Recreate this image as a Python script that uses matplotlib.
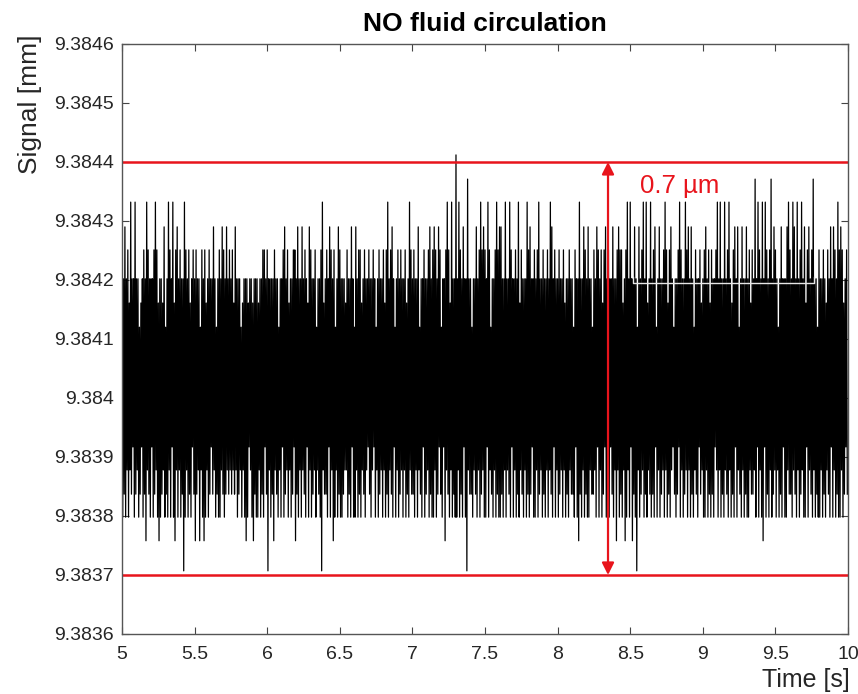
import numpy as np
import matplotlib
matplotlib.use("Agg")
import matplotlib.pyplot as plt

# quantised signal levels [mm]
up_levels = [9.38412, 9.384161, 9.384202, 9.384251, 9.38429, 9.384332, 9.384371, 9.384412]
low_levels = [9.383958, 9.383917, 9.383878, 9.383837, 9.383798, 9.383758, 9.383707]

# per 0.01 s bin: highest / lowest level code reached (estimated, 50 bins per row)
up_rows = [
    "32123132232201232132223231221302232313223220323123",
    "23220323123223202321322232313222012221221222122332",
    "32222322022312312233202232321232230223212322323022",
    "32221322320223312322322320232231322322023232231223",
    "23223022322312323223022323132232232122322022323132",
    "32230223231322322032232313222230223231223223202232",
    "23223122322032232213232203223231322322022323312322",
    "32232022322312323202322323132202232322133222032231",
    "23223132233202232322132230232232313222032322323122",
    "32023222313223202322313223222032232132320322323123",
]
low_rows = [
    "43424231432431434234143242432434241432424324243413",
    "43242434243132434423432323232432424341242344243413",
    "42434234241432424314342423414243242344233414234243",
    "44322434144243423421342142432424342341424324243423",
    "34242341432434424313414234243442434144233423424324",
    "41423424344342423414243423424343144243243424234142",
    "43242434233414234243442332414243142413424243423424",
    "14344243243423434142432424342134314243242434234132",
    "44243434124243423424341423424344233241424314342432",
    "42434144233423424324414234243442434234142434424313",
]

# isolated spikes (bin index, 0.01 s per bin)
up_code4 = [2, 29, 38, 63, 69, 72, 78, 112, 121, 124, 129, 143, 149, 158, 161,
            186, 204, 212, 215, 218, 235, 244, 249, 260, 261, 281, 296, 318, 321,
            327, 333, 338, 342, 353, 356, 367, 370, 378, 390, 392, 402, 422, 424,
            427, 430, 449, 454, 458, 463, 470, 473, 488, 490, 495]
up_code5 = [0, 6, 9, 17, 23, 32, 35, 43, 138, 183, 198, 224, 227, 232, 247, 252,
            258, 264, 267, 273, 279, 287, 295, 315, 348, 350, 359, 361, 364, 374,
            384, 388, 410, 412, 415, 418, 438, 441, 443, 459, 462, 465, 468, 493]
up_code6 = [238, 436, 447, 476]
up_code7 = [230]
low_code5 = [16, 25, 36, 50, 53, 56, 85, 90, 104, 119, 145, 222, 314, 340, 346, 351, 441]
low_code6 = [42, 100, 137, 237, 354]

# leftover light bracket inside the plot (erased legend)
bracket_t = [8.52, 8.52, 9.766, 9.766]
bracket_y = [9.384205, 9.384195, 9.384195, 9.384205]

limit_hi = 9.3844
limit_lo = 9.3837
arrow_t = 8.347

up_code = np.array([int(c) for c in "".join(up_rows)])
low_code = np.array([int(c) for c in "".join(low_rows)])
for codes, val in [(up_code4, 4), (up_code5, 5), (up_code6, 6), (up_code7, 7)]:
    up_code[codes] = val
for codes, val in [(low_code5, 5), (low_code6, 6)]:
    low_code[codes] = val

t_bin = 5 + 0.01 * np.arange(len(up_code))
t = np.column_stack([t_bin, t_bin + 0.005]).ravel()
sig = np.column_stack([np.array(up_levels)[up_code],
                       np.array(low_levels)[low_code]]).ravel()

red = "#e8141c"
plt.rcParams["font.family"] = ["Liberation Sans", "DejaVu Sans"]

fig = plt.figure(figsize=(8.58, 6.94), dpi=100)
ax = fig.add_axes([0.1422, 0.0865, 0.8462, 0.8501])

ax.plot(t, sig, color="black", lw=0.9)
ax.plot(bracket_t, bracket_y, color="#e6e6e6", lw=1.0)
ax.axhline(limit_hi, color=red, lw=1.8)
ax.axhline(limit_lo, color=red, lw=1.8)
ax.annotate("", xy=(arrow_t, limit_hi), xytext=(arrow_t, limit_lo),
            arrowprops=dict(arrowstyle="<|-|>", color=red, lw=1.6,
                            mutation_scale=18, shrinkA=0, shrinkB=0))
ax.text(8.57, 9.38436, "0.7 \u00b5m", color=red, fontsize=18.5, ha="left", va="center")

ax.set_xlim(5, 10)
ax.set_ylim(9.3836, 9.3846)
xt = np.arange(5, 10.01, 0.5)
yt = np.arange(9.3836, 9.38461, 0.0001)
ax.set_xticks(xt)
ax.set_xticklabels([f"{v:g}" for v in xt])
ax.set_yticks(yt)
ax.set_yticklabels([f"{v:.4f}".rstrip("0") for v in yt])
ax.tick_params(direction="in", top=True, right=True, length=5, width=0.8,
               labelsize=14, colors="#444444", labelcolor="#262626")
ax.tick_params(axis="y", pad=6)
ax.tick_params(axis="x", pad=9)
for s in ax.spines.values():
    s.set_color("#555555")
    s.set_linewidth(1.0)

ax.set_title("NO fluid circulation", fontsize=19, fontweight="bold", pad=9)
ax.set_ylabel("Signal [mm]", fontsize=19, color="#262626")
ax.yaxis.set_label_coords(-0.127, 0.898)
ax.yaxis.label.set_va("center")
ax.set_xlabel("Time [s]", fontsize=18, color="#262626")
ax.xaxis.set_label_coords(0.942, -0.078)
ax.xaxis.label.set_va("center")

fig.savefig("out.png", dpi=100, facecolor="white")
